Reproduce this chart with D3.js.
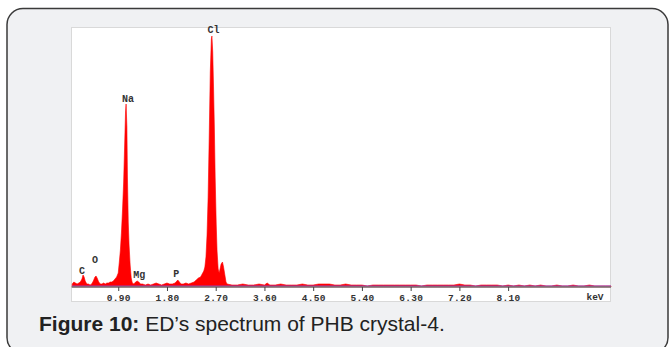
<!DOCTYPE html>
<html>
<head>
<meta charset="utf-8">
<script src="https://cdn.jsdelivr.net/npm/d3@7"></script>
<style>
  html, body { margin: 0; padding: 0; background: #fff; }
  svg { display: block; }
</style>
</head>
<body>
<div id="root"></div>
<script>
// EDS spectrum, energy (keV) vs counts (arbitrary units)
var energyKeV = [
  0.05, 0.08, 0.11, 0.14, 0.17, 0.20, 0.23, 0.25, 0.27, 0.29, 0.32, 0.35, 0.38, 0.41, 0.44, 0.47, 0.49, 0.51, 0.54, 0.57,
  0.60, 0.63, 0.66, 0.69, 0.72, 0.75, 0.78, 0.81, 0.84, 0.87, 0.90, 0.92, 0.94, 0.96, 0.98, 1.00, 1.02, 1.035, 1.045, 1.06,
  1.07, 1.085, 1.10, 1.12, 1.14, 1.16, 1.19, 1.22, 1.25, 1.28, 1.31, 1.35, 1.40, 1.45, 1.50, 1.55, 1.60, 1.65, 1.70, 1.75,
  1.80, 1.85, 1.90, 1.95, 2.00, 2.03, 2.06, 2.10, 2.15, 2.20, 2.25, 2.30, 2.34, 2.38, 2.42, 2.45, 2.48, 2.50, 2.52, 2.54,
  2.56, 2.58, 2.60, 2.62, 2.63, 2.645, 2.66, 2.675, 2.69, 2.71, 2.725, 2.745, 2.765, 2.78, 2.80, 2.825, 2.845, 2.875, 2.89, 2.91,
  3.00, 3.10, 3.20, 3.30, 3.40, 3.50, 3.60, 3.65, 3.70, 3.80, 3.90, 4.00, 4.10, 4.20, 4.30, 4.40, 4.50, 4.60, 4.70, 4.80,
  4.90, 5.00, 5.10, 5.20, 5.30, 5.40, 5.50, 5.60, 5.70, 5.80, 5.90, 6.00, 6.10, 6.20, 6.30, 6.40, 6.50, 6.60, 6.70, 6.80,
  6.90, 7.00, 7.10, 7.20, 7.30, 7.40, 7.50, 7.60, 7.70, 7.80, 7.90, 8.00, 8.10, 8.20, 8.30, 8.40, 8.50, 8.60, 8.70, 8.80,
  8.90, 9.00, 9.10, 9.20, 9.30, 9.40, 9.50, 9.60, 9.70, 9.80, 9.90, 10.0
];
var counts = [
  30, 50, 40, 30, 40, 50, 80, 120, 100, 60, 30, 30, 20, 30, 60, 100, 110, 90, 50, 30,
  30, 40, 30, 40, 40, 50, 50, 60, 80, 100, 140, 250, 370, 550, 780, 1050, 1450, 1750, 1830, 1600,
  1100, 650, 420, 220, 90, 40, 30, 50, 60, 50, 30, 30, 20, 30, 20, 30, 40, 30, 20, 30,
  40, 30, 30, 40, 70, 50, 30, 30, 40, 30, 40, 50, 70, 90, 100, 130, 160, 200, 300, 520,
  900, 1500, 2150, 2480, 2510, 2350, 2000, 1600, 1100, 620, 360, 180, 140, 180, 230, 250, 200, 100, 50, 30,
  20, 20, 30, 20, 20, 30, 20, 40, 20, 20, 30, 20, 20, 20, 30, 20, 20, 30, 30, 30,
  20, 20, 30, 20, 20, 20, 10, 20, 20, 20, 20, 20, 20, 20, 20, 20, 10, 20, 20, 20,
  20, 20, 20, 30, 20, 20, 10, 20, 20, 20, 20, 10, 20, 10, 20, 10, 20, 10, 20, 10,
  10, 20, 10, 10, 20, 10, 10, 20, 10, 10, 10, 10
];
// fitted background line
var bkgKeV = [0.05, 10.0];
var bkgCounts = [8, 8];

// element markers
var elements = ['C', 'O', 'Na', 'Mg', 'P', 'Cl'];
var elementKeV = [0.23, 0.47, 1.06, 1.27, 1.97, 2.64];
var labelCounts = [135, 240, 1850, 90, 100, 2540];

var tickValues = [0.9, 1.8, 2.7, 3.6, 4.5, 5.4, 6.3, 7.2, 8.1];

var W = 670, H = 347;
var svg = d3.select('#root').append('svg').attr('width', W).attr('height', H);

// card
svg.append('rect')
  .attr('x', 7).attr('y', 8.5).attr('width', 661).attr('height', 345)
  .attr('rx', 16).attr('ry', 16)
  .attr('fill', '#f0f1f3').attr('stroke', '#3a3a3a').attr('stroke-width', 1.5);

// plot panel
svg.append('rect')
  .attr('x', 71.5).attr('y', 27.5).attr('width', 539).attr('height', 274)
  .attr('fill', '#fff').attr('stroke', '#d9d9d9').attr('stroke-width', 1);

var x = d3.scaleLinear().domain([0, 10]).range([69.5, 611]);
var y = d3.scaleLinear().domain([0, 2600]).range([287, 27]);

var spec = energyKeV.map(function (k, i) { return { k: k, c: counts[i] }; });

var area = d3.area()
  .x(function (d) { return x(d.k); })
  .y0(y(0))
  .y1(function (d) { return y(d.c); });

svg.append('path')
  .datum(spec)
  .attr('d', area)
  .attr('fill', '#ff0000')
  .attr('stroke', '#ff0000')
  .attr('stroke-width', 0.6);

var line = d3.line()
  .x(function (d) { return x(d.k); })
  .y(function (d) { return y(d.c); });

svg.append('path')
  .datum(bkgKeV.map(function (k, i) { return { k: k, c: bkgCounts[i] }; }))
  .attr('d', line)
  .attr('fill', 'none')
  .attr('stroke', '#9a3dbd')
  .attr('stroke-width', 1.2);

var monoFont = '"Liberation Mono", "Courier New", monospace';

// x axis
var axis = svg.append('g')
  .attr('transform', 'translate(0,' + y(0) + ')')
  .call(d3.axisBottom(x).tickValues(tickValues).tickFormat(d3.format('.2f')).tickSize(4).tickPadding(3));
axis.select('.domain').attr('stroke', '#777').attr('stroke-width', 1.5)
  .attr('d', 'M' + x(0.04) + ',0H' + x(10));
axis.selectAll('.tick line').attr('stroke', '#444');
axis.selectAll('.tick text')
  .attr('fill', '#333')
  .style('font-family', monoFont)
  .style('font-weight', 'bold')
  .style('font-size', '9.5px')
  .style('letter-spacing', '0.3px');

svg.append('text')
  .attr('x', 595).attr('y', 300)
  .attr('text-anchor', 'middle')
  .attr('fill', '#333')
  .style('font-family', monoFont)
  .style('font-weight', 'bold')
  .style('font-size', '9.5px')
  .text('keV');

// element labels
svg.append('g')
  .selectAll('text')
  .data(elements)
  .enter()
  .append('text')
  .attr('x', function (d, i) { return x(elementKeV[i]) + (d.length > 1 ? 1 : 0); })
  .attr('y', function (d, i) { return y(labelCounts[i]); })
  .attr('text-anchor', 'middle')
  .attr('fill', '#333')
  .style('font-family', monoFont)
  .style('font-weight', 'bold')
  .style('font-size', '10px')
  .text(function (d) { return d; });

// caption
var cap = svg.append('text')
  .attr('x', 39).attr('y', 331)
  .attr('fill', '#222')
  .style('font-family', '"Liberation Sans", Arial, sans-serif')
  .style('font-size', '21px');
cap.append('tspan').style('font-weight', 'bold').text('Figure 10:');
cap.append('tspan').text(' ED\u2019s spectrum of PHB crystal-4.');
</script>
</body>
</html>
